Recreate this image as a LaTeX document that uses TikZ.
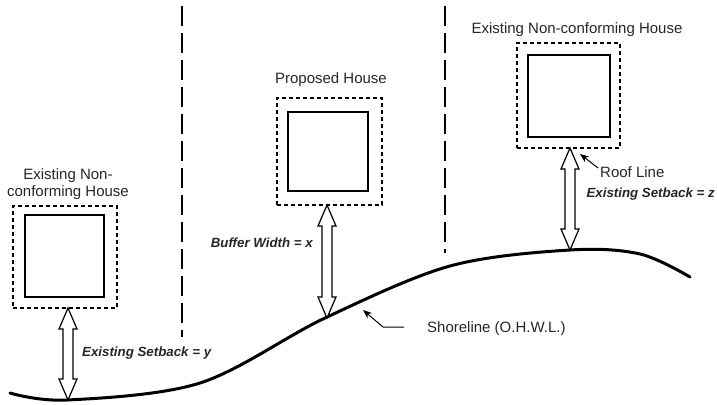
\documentclass[tikz,border=0pt]{standalone}
\usepackage{fontspec}
\setmainfont{Liberation Sans}
\usetikzlibrary{arrows.meta,calc}
\newcommand{\blockarrow}[2]{%
  \draw[blockarr] let \p1=(#1), \p2=(#2) in
    (\x1,\y1) -- (\x1+9pt,\y1-21pt) -- (\x1+5pt,\y1-21pt) -- (\x1+5pt,\y2+21pt)
    -- (\x1+9pt,\y2+21pt) -- (\x1,\y2) -- (\x1-9pt,\y2+21pt) -- (\x1-5pt,\y2+21pt)
    -- (\x1-5pt,\y1-21pt) -- (\x1-9pt,\y1-21pt) -- cycle;}
\tikzset{
  roof/.style={draw, dash pattern=on 4pt off 3pt, line width=1.5pt, inner sep=0pt, rectangle},
  house/.style={draw, line width=1.4pt, inner sep=0pt, rectangle},
  lot/.style={line width=2pt, dash pattern=on 20pt off 7pt},
  shore/.style={line width=3pt, line cap=round},
  blockarr/.style={draw, line width=1.2pt, fill=white, line join=miter},
  lbl/.style={font=\fontsize{15}{17}\selectfont, inner sep=0pt, text=black!85},
  blbl/.style={font=\fontsize{13.3}{16}\selectfont\bfseries\itshape, inner sep=0pt, text=black!85},
  pointer/.style={line width=1pt, -{Stealth[length=9pt,width=7pt]}}
}
\begin{document}
\begin{tikzpicture}[x=1pt,y=-1pt]
\useasboundingbox (0,0) rectangle (717,404);
% lot lines
\coordinate (l1t) at (182,6);
\coordinate (l1b) at (182,337);
\coordinate (l2t) at (445,6);
\coordinate (l2b) at (445,253);
\draw[lot] (l1t) -- (l1b);
\draw[lot] (l2t) -- (l2b);
% shoreline
\draw[shore] plot[smooth, tension=0.55] coordinates {(10,393) (67,400) (200,383) (325,318) (450,266) (570,250) (640,254) (690,277)};
% left house
\node[roof, minimum width=104pt, minimum height=102pt] (lout) at (65,257) {};
\node[house, minimum width=79pt, minimum height=82pt] (lin) at (64.5,256) {};
\node[lbl, align=center] (ltxt) at (68,184) {Existing Non-\\conforming House};
% proposed house
\node[roof, minimum width=105pt, minimum height=107pt] (pout) at (329.5,151.5) {};
\node[house, minimum width=80pt, minimum height=79pt] (pin) at (328,151.5) {};
\node[lbl] (ptxt) at (331,80) {Proposed House};
% right house
\node[roof, minimum width=103pt, minimum height=105pt] (rout) at (568.5,95.5) {};
\node[house, minimum width=82pt, minimum height=82pt] (rin) at (569,96) {};
\node[lbl] (rtxt) at (577,30) {Existing Non-conforming House};
% setback arrows
\coordinate (la) at (68,308);
\coordinate (lz) at (68,400);
\coordinate (pa) at (327,205);
\coordinate (pz) at (327,318);
\coordinate (ra) at (570,148);
\coordinate (rz) at (570,250);
\blockarrow{la}{lz}
\blockarrow{pa}{pz}
\blockarrow{ra}{rz}
\node[blbl, anchor=west] (ly) at (82,353) {Existing Setback = y};
\node[blbl, anchor=east] (px) at (313,243) {Buffer Width = x};
\node[blbl, anchor=east] (rzl) at (715,194) {Existing Setback = z};
% roof line pointer
\node[lbl, anchor=west] (roofl) at (600,172) {Roof Line};
\coordinate (rp1) at (598,168);
\coordinate (rp2) at (580,154);
\draw[pointer] (rp1) -- (rp2);
% shoreline pointer
\node[lbl, anchor=west] (shl) at (427,329) {Shoreline (O.H.W.L.)};
\coordinate (sp0) at (404,327);
\coordinate (sp1) at (383,327);
\coordinate (sp2) at (363,310);
\draw[pointer] (sp0) -- (sp1) -- (sp2);
\end{tikzpicture}
\end{document}
